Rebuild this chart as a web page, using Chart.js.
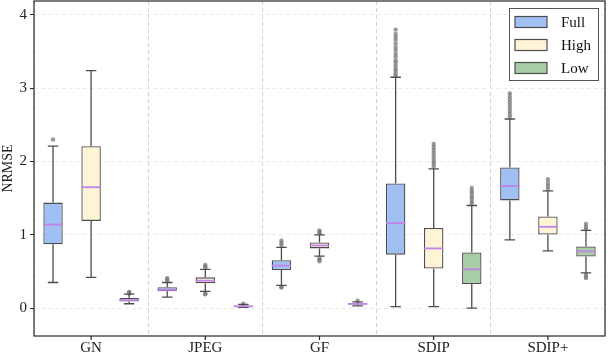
<!DOCTYPE html>
<html>
<head>
<meta charset="utf-8">
<script src="https://cdn.jsdelivr.net/npm/chart.js@4.4.0/dist/chart.umd.min.js"></script>
<style>
    html, body {margin: 0; padding: 0; background: #fff;}
    #wrap {width: 608px; height: 356px; position: relative;}
</style>
</head>
<body>
<div id="wrap"><canvas id="chart"></canvas></div>
<script>
const groups = ['GN', 'JPEG', 'GF', 'SDIP', 'SDIP+']
const seriesNames = ['Full', 'High', 'Low']
const yTicks = [0, 1, 2, 3, 4]

// Full
const fullMin = [0.35, 0.15, 0.31, 0.02, 0.93]
const fullQ1 = [0.87, 0.23, 0.52, 0.73, 1.47]
const fullMed = [1.14, 0.25, 0.58, 1.16, 1.665]
const fullQ3 = [1.44, 0.285, 0.655, 1.70, 1.92]
const fullMax = [2.21, 0.35, 0.83, 3.15, 2.58]
const fullOut = [
    [2.30],
    [0.37, 0.39, 0.41],
    [0.86, 0.89, 0.92, 0.29, 0.28],
    [3.17, 3.2, 3.24, 3.27, 3.31, 3.35, 3.38, 3.43, 3.47, 3.52, 3.56, 3.61, 3.66, 3.7, 3.74, 3.8],
    [2.61, 2.65, 2.69, 2.73, 2.77, 2.81, 2.85, 2.89, 2.93]
]

// High
const highMin = [0.42, 0.23, 0.71, 0.02, 0.78]
const highQ1 = [1.19, 0.34, 0.815, 0.54, 1.005]
const highMed = [1.65, 0.375, 0.855, 0.815, 1.11]
const highQ3 = [2.21, 0.42, 0.895, 1.095, 1.25]
const highMax = [3.24, 0.53, 1.0, 1.90, 1.60]
const highOut = [
    [],
    [0.55, 0.57, 0.59, 0.2, 0.19],
    [1.02, 1.04, 1.06, 0.68, 0.66, 0.64],
    [1.93, 1.97, 2.0, 2.04, 2.08, 2.12, 2.16, 2.2, 2.24],
    [1.63, 1.67, 1.71, 1.76]
]

// Low
const lowMin = [0.06, 0.01, 0.03, 0.0, 0.48]
const lowQ1 = [0.09, 0.02, 0.05, 0.33, 0.705]
const lowMed = [0.11, 0.025, 0.058, 0.53, 0.775]
const lowQ3 = [0.14, 0.03, 0.065, 0.76, 0.84]
const lowMax = [0.19, 0.05, 0.085, 1.40, 1.06]
const lowOut = [
    [0.2, 0.21, 0.22],
    [0.06],
    [0.1],
    [1.43, 1.46, 1.5, 1.53, 1.57, 1.6, 1.64],
    [1.08, 1.11, 1.15, 0.46, 0.43, 0.41]
]

const fillColors = ['#a0bff2', '#fff4d6', '#a7cca6']
const edge = '#4d4d4d'
const medianColor = '#c084e4'
const serif = "'Liberation Serif', 'DejaVu Serif', serif"

const makeSet = (name, color, mins, q1, med, q3, maxs, outs) => ({
    label: name,
    data: groups.map((g, i) => [q1[i], q3[i]]),
    stats: {min: mins, med: med, max: maxs, out: outs},
    backgroundColor: color,
    borderColor: edge,
    borderWidth: 1.3,
    borderSkipped: false,
    barPercentage: 0.51,
    categoryPercentage: 1.0
})

// whiskers, medians and fliers drawn on top of the floating bars
const boxPlugin = {
    id: 'boxPlot',
    afterDatasetsDraw(chart) {
        const ctx = chart.ctx
        const y = chart.scales.y
        chart.data.datasets.forEach((ds, di) => {
            const meta = chart.getDatasetMeta(di)
            meta.data.forEach((bar, i) => {
                const x = bar.x
                const half = bar.width / 2
                const cap = bar.width * 0.27
                const q1 = y.getPixelForValue(ds.data[i][0])
                const q3 = y.getPixelForValue(ds.data[i][1])
                const lo = y.getPixelForValue(ds.stats.min[i])
                const hi = y.getPixelForValue(ds.stats.max[i])
                const md = y.getPixelForValue(ds.stats.med[i])
                ctx.save()
                // fliers
                ctx.fillStyle = 'rgba(120,120,120,0.75)'
                ds.stats.out[i].forEach((v) => {
                    ctx.beginPath()
                    ctx.arc(x, y.getPixelForValue(v), 2.2, 0, Math.PI * 2)
                    ctx.fill()
                })
                ctx.strokeStyle = edge
                ctx.lineWidth = 1.3
                ctx.beginPath()
                ctx.moveTo(x, q3); ctx.lineTo(x, hi)
                ctx.moveTo(x, q1); ctx.lineTo(x, lo)
                ctx.moveTo(x - cap, hi); ctx.lineTo(x + cap, hi)
                ctx.moveTo(x - cap, lo); ctx.lineTo(x + cap, lo)
                ctx.stroke()
                ctx.strokeStyle = medianColor
                ctx.lineWidth = 1.8
                ctx.beginPath()
                ctx.moveTo(x - half, md); ctx.lineTo(x + half, md)
                ctx.stroke()
                ctx.restore()
            })
        })
    },
    afterDraw(chart) {
        const ctx = chart.ctx
        const a = chart.chartArea
        const x = chart.scales.x
        ctx.save()
        // frame
        ctx.strokeStyle = '#262626'
        ctx.lineWidth = 1.2
        ctx.strokeRect(a.left, a.top, a.right - a.left, a.bottom - a.top)
        // x tick marks at category centres
        ctx.beginPath()
        groups.forEach((g, i) => {
            const px = x.getPixelForValue(i)
            ctx.moveTo(px, a.bottom); ctx.lineTo(px, a.bottom + 4)
        })
        ctx.stroke()
        // legend
        const lx = 509, ly = 8, lw = 89, lh = 72
        ctx.fillStyle = '#ffffff'
        ctx.fillRect(lx, ly, lw, lh)
        ctx.strokeStyle = '#555'
        ctx.lineWidth = 1
        ctx.strokeRect(lx + 0.5, ly + 0.5, lw, lh)
        ctx.font = '15px ' + serif
        ctx.textBaseline = 'middle'
        chart.data.datasets.forEach((ds, di) => {
            const cy = ly + 14 + di * 23
            ctx.fillStyle = ds.backgroundColor
            ctx.fillRect(lx + 6, cy - 5.5, 32, 11)
            ctx.strokeStyle = edge
            ctx.lineWidth = 1.2
            ctx.strokeRect(lx + 6, cy - 5.5, 32, 11)
            ctx.fillStyle = '#111'
            ctx.fillText(ds.label, lx + 52, cy + 1)
        })
        ctx.restore()
    }
}

new Chart(document.getElementById('chart'), {
    type: 'bar',
    data: {
        labels: groups,
        datasets: [
            makeSet(seriesNames[0], fillColors[0], fullMin, fullQ1, fullMed, fullQ3, fullMax, fullOut),
            makeSet(seriesNames[1], fillColors[1], highMin, highQ1, highMed, highQ3, highMax, highOut),
            makeSet(seriesNames[2], fillColors[2], lowMin, lowQ1, lowMed, lowQ3, lowMax, lowOut)
        ]
    },
    options: {
        responsive: true, maintainAspectRatio: false, animation: false,
        layout: {padding: {top: 1, right: 3, left: 0, bottom: 0}},
        plugins: {legend: {display: false}, tooltip: {enabled: false}},
        scales: {
            x: {
                offset: true,
                grid: {offset: true, color: '#d2d2d2', lineWidth: 1, drawTicks: false},
                border: {display: false, dash: [4, 3]},
                ticks: {color: '#222', font: {family: serif, size: 15}, padding: 3},
                afterFit: (scale) => {
                    scale.height = 20
                    scale.paddingLeft = 0
                    scale.paddingRight = 0
                }
            },
            y: {
                min: -0.38, max: 4.19,
                afterBuildTicks: (scale) => { scale.ticks = yTicks.map((v) => ({value: v})) },
                grid: {color: '#ebebeb', lineWidth: 1, tickColor: '#262626', tickLength: 4},
                border: {display: false, dash: [4, 3]},
                ticks: {color: '#222', font: {family: serif, size: 15}, padding: 3},
                title: {display: true, text: 'NRMSE', color: '#222', font: {family: serif, size: 14}, padding: {top: 0, bottom: 2}},
                afterFit: (scale) => {
                    scale.width = 34
                    scale.paddingTop = 0
                    scale.paddingBottom = 0
                }
            }
        }
    },
    plugins: [boxPlugin]
});
</script>
</body>
</html>
